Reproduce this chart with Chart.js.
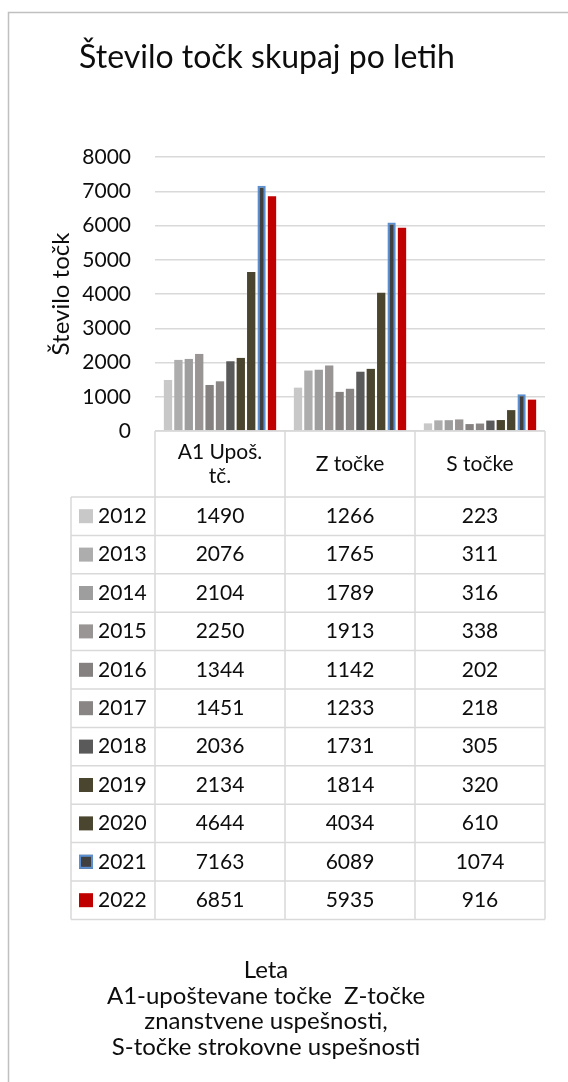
<!DOCTYPE html>
<html>
<head>
<meta charset="utf-8">
<script src="https://cdn.jsdelivr.net/npm/chart.js@4.4.0/dist/chart.umd.min.js"></script>
<style>
  html, body { margin: 0; padding: 0; background: #fff; }
  #pointsChart { display: block; }
</style>
</head>
<body>
<canvas id="pointsChart" width="568" height="1082"></canvas>
<script>
// chart data
const chartTitle = "Število točk skupaj po letih";
const yAxisTitle = "Število točk";
const xAxisTitle = ["Leta", "A1-upoštevane točke  Z-točke", "znanstvene uspešnosti,", "S-točke strokovne uspešnosti"];
const categories = [["A1 Upoš.", "tč."], "Z točke", "S točke"];
const years = ["2012", "2013", "2014", "2015", "2016", "2017", "2018", "2019", "2020", "2021", "2022"];
const a1Points = [1490, 2076, 2104, 2250, 1344, 1451, 2036, 2134, 4644, 7163, 6851];
const zPoints = [1266, 1765, 1789, 1913, 1142, 1233, 1731, 1814, 4034, 6089, 5935];
const sPoints = [223, 311, 316, 338, 202, 218, 305, 320, 610, 1074, 916];
const yTicks = [0, 1000, 2000, 3000, 4000, 5000, 6000, 7000, 8000];

const yearColors = ["#c8c8c8", "#adadad", "#9e9e9e", "#989594", "#848180", "#898584",
                    "#5a5a5a", "#4a452e", "#4a452e", "#404040", "#c00000"];
const FONT = "Lato, 'Open Sans', sans-serif";
const TEXT = "#0d0d0d";
const LINE = "#d9d9d9";

const datasets = years.map((y, i) => ({
    label: y,
    data: [a1Points[i], zPoints[i], sPoints[i]],
    backgroundColor: yearColors[i],
    borderColor: y === "2021" ? "#5b8fd0" : yearColors[i],
    borderWidth: y === "2021" ? 2 : 0,
    categoryPercentage: 0.88,
    barPercentage: 0.8
}));

const tablePlugin = {
    id: "tablePlugin",
    beforeDraw(chart) {
        const ctx = chart.ctx;
        ctx.save();
        ctx.fillStyle = "#fff";
        ctx.fillRect(0, 0, chart.width, chart.height);
        // outer frame
        ctx.strokeStyle = "#c0c0c0";
        ctx.lineWidth = 1.5;
        ctx.beginPath();
        ctx.moveTo(8.5, chart.height);
        ctx.lineTo(8.5, 12.5);
        ctx.lineTo(chart.width, 12.5);
        ctx.stroke();
        ctx.restore();
    },
    afterDraw(chart) {
        const ctx = chart.ctx;
        const area = chart.chartArea;
        const xs = chart.scales.x;
        const colW = (area.right - area.left) / categories.length;
        const headTop = area.bottom;
        const headH = 66;
        const rowH = 38.4;
        const rowsTop = headTop + headH;
        const tableBottom = rowsTop + years.length * rowH;
        const legendLeft = 71;

        ctx.save();
        // title
        ctx.fillStyle = TEXT;
        ctx.font = "32px " + FONT;
        ctx.textAlign = "center";
        ctx.textBaseline = "alphabetic";
        ctx.fillText(chartTitle, 267, 68);

        // table grid
        ctx.strokeStyle = LINE;
        ctx.lineWidth = 1.5;
        ctx.beginPath();
        for (let i = 0; i <= categories.length; i++) {
            const x = area.left + i * colW;
            ctx.moveTo(x, headTop);
            ctx.lineTo(x, tableBottom);
        }
        ctx.moveTo(legendLeft, rowsTop);
        ctx.lineTo(legendLeft, tableBottom);
        ctx.moveTo(area.left, headTop);
        ctx.lineTo(area.right, headTop);
        for (let r = 0; r <= years.length; r++) {
            const y = rowsTop + r * rowH;
            ctx.moveTo(legendLeft, y);
            ctx.lineTo(area.right, y);
        }
        ctx.stroke();

        ctx.font = "21px " + FONT;
        ctx.fillStyle = TEXT;
        ctx.textBaseline = "middle";
        ctx.textAlign = "center";

        // header cells
        categories.forEach((c, i) => {
            const lines = Array.isArray(c) ? c : [c];
            const cx = xs.getPixelForValue(i);
            const cy = headTop + headH / 2;
            lines.forEach((t, k) => {
                ctx.fillText(t, cx, cy + (k - (lines.length - 1) / 2) * 24);
            });
        });

        // rows: legend key + values
        chart.data.datasets.forEach((ds, r) => {
            const cy = rowsTop + r * rowH + rowH / 2;
            ctx.fillStyle = ds.backgroundColor;
            ctx.fillRect(79, cy - 7, 14, 14);
            if (ds.borderWidth) {
                ctx.strokeStyle = ds.borderColor;
                ctx.lineWidth = 2;
                ctx.strokeRect(80, cy - 6, 12, 12);
            }
            ctx.fillStyle = TEXT;
            ctx.textAlign = "left";
            ctx.fillText(ds.label, 98, cy);
            ctx.textAlign = "center";
            ds.data.forEach((v, i) => {
                ctx.fillText(String(v), xs.getPixelForValue(i), cy);
            });
        });

        // axis title below the table
        ctx.font = "24px " + FONT;
        ctx.textBaseline = "alphabetic";
        xAxisTitle.forEach((t, k) => {
            ctx.fillText(t, 266, 978 + k * 25.5);
        });
        ctx.restore();
    }
};

const ctx = document.getElementById("pointsChart").getContext("2d");
new Chart(ctx, {
    type: "bar",
    data: { labels: categories, datasets: datasets },
    options: {
        responsive: false,
        animation: false,
        layout: { padding: { top: 157, bottom: 651, left: 0, right: 23 } },
        plugins: {
            legend: { display: false },
            title: { display: false },
            tooltip: { enabled: false }
        },
        scales: {
            x: {
                display: false,
                grid: { display: false, drawTicks: false }
            },
            y: {
                min: 0,
                max: 8000,
                afterBuildTicks: (scale) => { scale.ticks = yTicks.map(v => ({ value: v })); },
                afterFit: (scale) => { scale.width = 155; },
                border: { display: false },
                grid: { color: LINE, lineWidth: 1.5, drawTicks: false },
                ticks: {
                    padding: 24,
                    color: TEXT,
                    font: { family: FONT, size: 21 },
                    callback: (v) => String(v)
                },
                title: {
                    display: true,
                    text: yAxisTitle,
                    color: TEXT,
                    font: { family: FONT, size: 24 },
                    padding: { top: 47, bottom: 0 }
                }
            }
        }
    },
    plugins: [tablePlugin]
});
</script>
</body>
</html>
